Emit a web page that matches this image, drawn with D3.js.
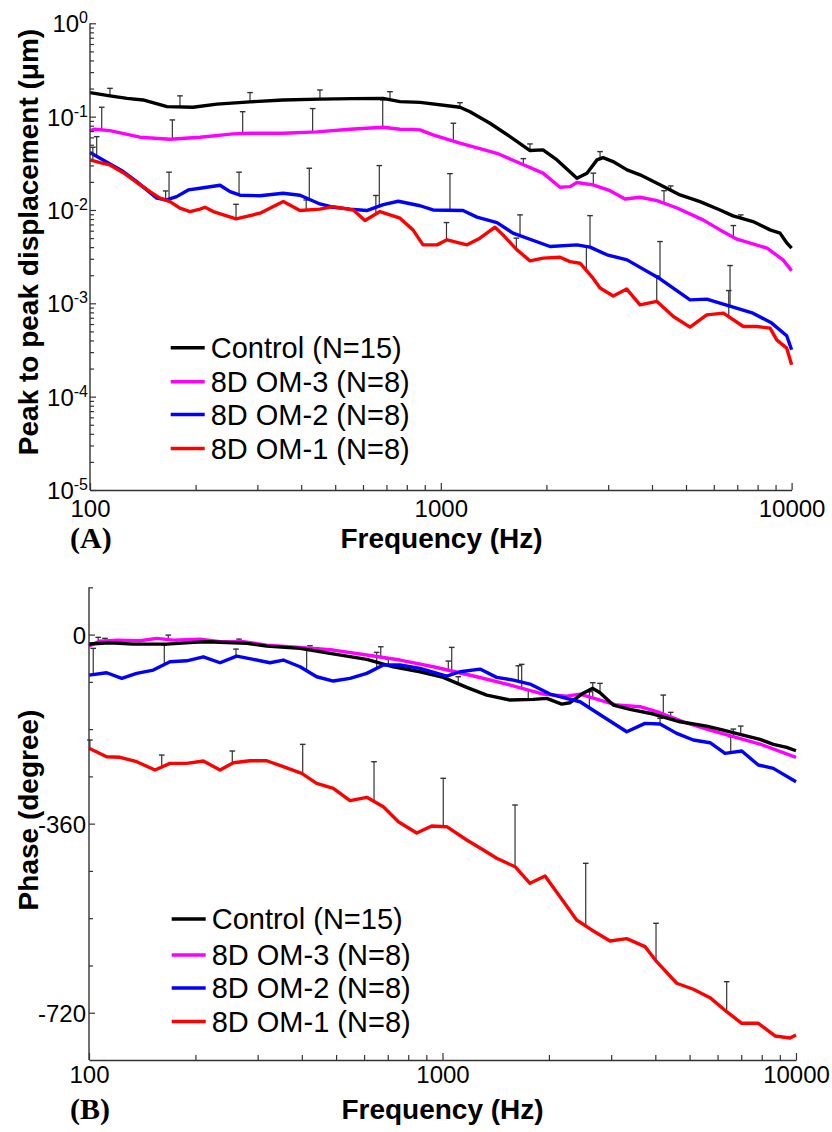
<!DOCTYPE html>
<html><head><meta charset="utf-8">
<script src="https://cdn.jsdelivr.net/npm/d3@7"></script>
<style>body{margin:0;background:#fff}svg{display:block}</style>
</head><body>
<svg id="c" width="832" height="1132"></svg>
<script>
// ---------------- DATA ----------------
const seriesNames = ["Control (N=15)", "8D OM-3 (N=8)", "8D OM-2 (N=8)", "8D OM-1 (N=8)"];
const seriesColors = ["#000000", "#ff00ff", "#0000ff", "#ff0000"];
const xTickValues = [100, 1000, 10000];
const xTickLabels = ["100", "1000", "10000"];
const ampTickExponents = [0, -1, -2, -3, -4, -5];
const phaseTickValues = [0, -360, -720];
const phaseTickLabels = ["0", "-360", "-720"];

// Panel A: peak-to-peak displacement (um)
const ampControlFreq = [100,114,127.5,141.6,165.8,196.6,230,285.9,355,452,562,684,765,873,1134,1211,1381,1575,1796,1956,2144,2444,2610,2788,2900,3097,3395,3698,4216,4808,5482,6252,6808,7762,8681,9268,9703,10000];
const ampControl = [0.181,0.167,0.157,0.151,0.128,0.126,0.136,0.144,0.151,0.154,0.156,0.157,0.145,0.142,0.126,0.113,0.0849,0.0611,0.0433,0.044,0.0344,0.0219,0.0248,0.0344,0.0364,0.033,0.0269,0.0238,0.0186,0.0145,0.0123,0.01,0.00865,0.00752,0.00612,0.00565,0.00441,0.0039];
const ampOM3Freq = [100,103.3,114,138.8,169,205.9,255.6,285.9,355,443.6,550.8,684,765,833,873,950,1134,1446,1682,1956,2187,2335,2444,2716,3037,3351,3698,4134,4714,5589,6252,6987,8510,9452,10000];
const ampOM3 = [0.0708,0.0733,0.0708,0.0602,0.0573,0.0602,0.0653,0.0664,0.0664,0.0686,0.0733,0.077,0.0733,0.073,0.0721,0.0637,0.0519,0.0405,0.0317,0.0248,0.0175,0.0178,0.0197,0.0186,0.0161,0.0131,0.0137,0.0126,0.0105,0.00783,0.00612,0.00487,0.0039,0.00292,0.00224];
const ampOM2Freq = [100,106.8,114,124.4,135.9,145.1,155,165.4,176.6,190.6,205.9,234.8,250.7,267.7,305.2,355,396.8,452.4,492.7,550.8,614.8,685.6,756.5,873,950,1157,1268,1446,1606,2048,2444,2663,2977,3395,4216,5134,5728,7762,8777,9683,10000];
const ampOM2 = [0.0412,0.0359,0.0312,0.0258,0.0201,0.0164,0.0134,0.0128,0.0139,0.0164,0.0171,0.0184,0.0157,0.0144,0.0142,0.0151,0.0144,0.0116,0.0107,0.0102,0.00986,0.0114,0.0124,0.0111,0.01,0.00986,0.00838,0.00733,0.00565,0.00406,0.00423,0.004,0.00331,0.00292,0.00183,0.00109,0.00111,0.000785,0.000614,0.000449,0.000318];
const ampOM1Freq = [100,106.8,114,124.4,135.9,148.3,158.3,169,180.5,192.8,205.9,212.7,224.6,260.8,305.2,355.6,396.8,452.4,493.8,563.2,607.8,670.7,765,833,889.9,975.5,1042,1188,1293,1427,1504,1649,1796,1956,2187,2335,2494,2716,2844,3102,3389,3698,4126,4601,5134,5728,6389,7285,7954,8681,9069,9683,10000];
const ampOM1 = [0.0344,0.0322,0.0304,0.0251,0.0197,0.0157,0.0134,0.0123,0.01045,0.00962,0.0102,0.0107,0.00962,0.00803,0.00924,0.0123,0.00986,0.0102,0.01087,0.01,0.0077,0.00962,0.00817,0.00612,0.00423,0.00423,0.00479,0.00423,0.00499,0.00654,0.00541,0.00374,0.00285,0.00305,0.00312,0.0028,0.00269,0.00186,0.00146,0.0012,0.00142,0.000964,0.00105,0.000722,0.000556,0.000753,0.000785,0.000565,0.000565,0.000543,0.000406,0.000331,0.00022];

// Panel A error bars (upper end, mean + SD)
const ampControlErrFreq = [114,180.5,285.9,452.4,716.4,1134,1796,2844,4522,7162];
const ampControlErrTop = [0.201,0.167,0.181,0.193,0.185,0.141,0.051,0.0422,0.0181,0.00886];
const ampOM3ErrFreq = [108,171.7,272.4,431.2,683,1086,1719,2721,4328,6823];
const ampOM3ErrTop = [0.126,0.0922,0.113,0.122,0.151,0.085,0.0355,0.0248,0.0161,0.00681];
const ampOM2ErrFreq = [104.5,168,266,421.8,667.9,1062,1682,2663,4216,6676];
const ampOM2ErrTop = [0.0611,0.0254,0.0254,0.028,0.0299,0.0245,0.00886,0.0087,0.00459,0.00254];
const ampOM1ErrFreq = [101.9,164.3,260.8,413.3,653,1038,1642,2600,4126,6620];
const ampOM1ErrTop = [0.047,0.016,0.0115,0.0128,0.0143,0.00733,0.00499,0.00403,0.00197,0.00137];

// Panel B: phase (degree)
const phControlFreq = [100,114.7,133.5,165.9,197.2,215.3,256,279.3,318.2,395.3,480.7,610.6,725.8,864,1005,1171,1334,1552,1807,1972,2174,2295,2476,2661,2790,3043,3392,3948,4697,5588,6230,6942,7911,8627,9413,10000];
const phControl = [-18,-15.6,-18.1,-18.1,-14.8,-13.7,-15.6,-16.7,-21.9,-26.3,-35.8,-47.2,-61.3,-70.8,-81.5,-100.5,-115.2,-124.7,-123.3,-121.4,-132.3,-129.8,-113.3,-102.4,-110.8,-134.2,-142.4,-151.3,-166,-174.2,-181.8,-190,-199.5,-209,-214.7,-221.2];
const phOM3Freq = [100,107.4,119.8,139.4,155.4,173.2,206.1,234.8,273.3,318.2,395.3,491.1,610.6,758.3,941.9,1250,1622,1928,2245,2449,2790,3111,3621,4125,4800,5712,6646,7907,10000];
const phOM3 = [-21.9,-12.4,-10.5,-11.8,-7.2,-10.5,-8.6,-13.7,-13.7,-20,-24.4,-29.5,-39,-48.5,-61.3,-80.3,-99.4,-113.3,-117.1,-113.3,-124.7,-134.2,-137.4,-148.8,-166,-181.8,-194.5,-208.4,-233.7];
const phOM2Freq = [100,112.2,123.8,136.4,152,169.4,188.9,210.6,234.8,261.7,291.6,325.1,354.5,395.3,440.6,491.1,547.4,610.6,680.1,758.3,864,1028,1121,1277,1423,1586,1768,2014,2449,2850,3320,3740,4125,4598,5123,5712,6299,7023,7823,8627,10000];
const phOM2 = [-77.1,-72.7,-83.4,-73.9,-67.6,-51.8,-49.9,-42.3,-53.7,-40.9,-47.2,-53.7,-48.5,-61.3,-80.3,-88.5,-83.4,-73.9,-58,-58,-64.3,-79,-70.8,-65.7,-81.5,-86.6,-94.2,-113.3,-127.9,-156.5,-185,-169,-170.3,-188.1,-200.8,-205.9,-226.1,-221.7,-248.4,-254.7,-280.2];
const phOM1Freq = [100,112.2,122.4,136.4,153.7,169.4,188.9,210.6,234.8,256,285.4,318.2,354.5,399.7,440.6,491.1,547.4,610.6,680.1,750,845.3,932.2,1028,1171,1305,1423,1604,1768,1950,2150,2396,2643,2978,3320,3740,4036,4598,5123,5712,6367,7023,7823,8723,9616,10000];
const phOM1 = [-216.6,-232.6,-233.7,-242.1,-257.9,-245.2,-245.2,-240.8,-257.9,-244,-240.2,-240.2,-251.6,-264.2,-283.2,-292.7,-316.3,-309.9,-327.8,-356.3,-377.8,-364.5,-365.8,-391.1,-410.2,-426,-442,-473.6,-459.7,-499.1,-543.4,-562.4,-583.4,-579,-594.2,-622.8,-663.9,-675.3,-691.3,-718,-740.1,-740.1,-764.2,-768,-762.3];

// Panel B error bars (upper end)
const phControlErrFreq = [111,176.2,279.3,440.6,702.5,1108,1748,2790,4421,6977];
const phControlErrTop = [-7.2,-10.5,-13.7,-25.1,-47.2,-80.3,-105.6,-92.9,-148.1,-174.2];
const phOM3ErrFreq = [106.2,167.6,265.7,421.9,668.9,1038.5,1675,2661,4213,6648];
const phOM3ErrTop = [-5.3,-1,-8.6,-21.3,-23.2,-50.4,-56.7,-91.7,-115.2,-179.9];
const phOM2ErrFreq = [102.8,163.3,260.5,412.8,651.3,1062,1638.5,2603,4125,6537];
const phOM2ErrTop = [-26.3,-20,-27.6,-26.3,-33.9,-24.4,-59.4,-108.9,-159.5,-194.5];
const phOM1ErrFreq = [100.6,160.6,254.3,402.3,640.2,1005,1604,2542,4018,6367];
const phOM1ErrTop = [-200.8,-229.4,-221.7,-209,-242.1,-273.7,-324.5,-435.5,-549.7,-660.9];

// ---------------- DRAWING ----------------
const svg = d3.select("#c");
const FONT = "'Liberation Sans', Arial, Helvetica, sans-serif";
const SERIF = "'Liberation Serif', 'Times New Roman', serif";
const AX = "#333333";

function minorLogTicks(lo, hi) {
  const out = [];
  for (let e = lo; e < hi; e++) for (let m = 2; m <= 9; m++) out.push(m * Math.pow(10, e));
  return out;
}

function styleAxis(g) {
  g.selectAll("path.domain").attr("stroke", AX).attr("stroke-width", 1.4);
  g.selectAll(".tick line").attr("stroke", AX).attr("stroke-width", 1.2);
  g.attr("font-family", FONT).attr("font-size", 24);
  g.selectAll(".tick text").attr("fill", "#000");
}

function baseYAt(freqs, vals, f, x, y) {
  const xf = x(f);
  for (let i = 0; i < freqs.length - 1; i++) {
    const x0 = x(freqs[i]), x1 = x(freqs[i + 1]);
    if (xf >= x0 && xf <= x1) {
      const t = (xf - x0) / (x1 - x0);
      return y(vals[i]) + (y(vals[i + 1]) - y(vals[i])) * t;
    }
  }
  return y(vals[0]);
}

function drawPanel(p) {
  const { x, y } = p;
  const g = svg.append("g");

  // error bars (drawn under lines)
  p.series.forEach(s => {
    s.errF.forEach((f, i) => {
      const xp = x(f), yt = y(s.errTop[i]), yb = baseYAt(s.f, s.v, f, x, y);
      g.append("line").attr("x1", xp).attr("x2", xp).attr("y1", yt).attr("y2", yb)
        .attr("stroke", AX).attr("stroke-width", 1.2);
      g.append("line").attr("x1", xp - 2.8).attr("x2", xp + 2.8).attr("y1", yt).attr("y2", yt)
        .attr("stroke", AX).attr("stroke-width", 1.4);
    });
  });

  // lines
  const line = d3.line().x(d => x(d[0])).y(d => y(d[1]));
  p.drawOrder.forEach(k => {
    const s = p.series[k];
    g.append("path").datum(d3.zip(s.f, s.v)).attr("d", line)
      .attr("fill", "none").attr("stroke", s.color).attr("stroke-width", 3.4)
      .attr("stroke-linejoin", "round").attr("stroke-linecap", "butt");
  });

  // x axis
  const gx = svg.append("g").attr("transform", `translate(0,${p.bottom})`);
  gx.append("g").call(d3.axisBottom(x).tickValues(minorLogTicks(2, 4)).tickSize(-5).tickSizeOuter(0).tickFormat(""))
    .call(s => s.select("path.domain").remove()).call(styleAxis);
  gx.append("g").call(d3.axisBottom(x).tickValues(xTickValues).tickSize(-7).tickSizeOuter(0)
      .tickFormat((d, i) => xTickLabels[i]))
    .call(styleAxis)
    .call(s => s.selectAll(".tick text").attr("y", p.xLabelBase).attr("dy", null));

  // y axis
  const gy = svg.append("g").attr("transform", `translate(${p.left},0)`);
  gy.append("g").call(d3.axisLeft(y).tickValues(p.yMinor).tickSize(-4).tickSizeOuter(0).tickFormat(""))
    .call(s => s.select("path.domain").remove()).call(styleAxis);
  gy.append("g").call(d3.axisLeft(y).tickValues(p.yMajor).tickSize(-6).tickSizeOuter(0).tickFormat(""))
    .call(styleAxis)
    .call(s => s.select("path.domain").attr("d", `M0,${p.yTopPx}V${p.bottom}`))
    .call(s => s.selectAll(".tick text").each(function (d, i) {
      const t = d3.select(this).attr("x", p.yLabelX).attr("dy", "0.36em").attr("text-anchor", "end");
      p.yLabel(t, d, i);
    }));

  // axis titles
  svg.append("text").attr("x", p.xTitleX).attr("y", p.xTitleY).attr("text-anchor", "middle")
    .attr("font-family", FONT).attr("font-weight", "bold").attr("font-size", 28).text("Frequency (Hz)");
  svg.append("text").attr("transform", `translate(${p.yTitleX},${p.yTitleY}) rotate(-90)`)
    .attr("text-anchor", "middle").attr("font-family", FONT).attr("font-weight", "bold")
    .attr("font-size", 28).text(p.yTitle);
  svg.append("text").attr("x", 70).attr("y", p.xTitleY).attr("font-family", SERIF)
    .attr("font-weight", "bold").attr("font-size", 30).text(p.panelLabel);

  // legend
  const lg = svg.append("g");
  seriesNames.forEach((n, i) => {
    const yy = p.legendY[i];
    lg.append("line").attr("x1", p.legendX).attr("x2", p.legendX + 34).attr("y1", yy).attr("y2", yy)
      .attr("stroke", seriesColors[i]).attr("stroke-width", 3.6);
    lg.append("text").attr("x", p.legendX + 40).attr("y", yy).attr("dy", "0.36em")
      .attr("font-family", FONT).attr("font-size", 29).attr("fill", "#000").text(n);
  });
}

// Panel A
const xA = d3.scaleLog().domain([100, 10000]).range([90, 791.6]);
const yA = d3.scaleLog().domain([1e-5, 1]).range([490, 23.3]);
drawPanel({
  x: xA, y: yA, left: 90, bottom: 490, yTopPx: 23.3, xLabelBase: 26.7,
  yMajor: ampTickExponents.map(e => Math.pow(10, e)),
  yMinor: minorLogTicks(-5, 0),
  yLabelX: -2,
  yLabel: (t, d, i) => {
    t.text(null);
    t.append("tspan").text("10");
    t.append("tspan").attr("dy", -9).attr("font-size", 16).text(String(ampTickExponents[i]));
  },
  xTitleX: 441.5, xTitleY: 548,
  yTitle: "Peak to peak displacement (\u03bcm)", yTitleX: 38, yTitleY: 242,
  panelLabel: "(A)",
  legendX: 170.7, legendY: [347.7, 381.7, 414.5, 448.5],
  drawOrder: [1, 0, 2, 3],
  series: [
    { f: ampControlFreq, v: ampControl, errF: ampControlErrFreq, errTop: ampControlErrTop, color: seriesColors[0] },
    { f: ampOM3Freq, v: ampOM3, errF: ampOM3ErrFreq, errTop: ampOM3ErrTop, color: seriesColors[1] },
    { f: ampOM2Freq, v: ampOM2, errF: ampOM2ErrFreq, errTop: ampOM2ErrTop, color: seriesColors[2] },
    { f: ampOM1Freq, v: ampOM1, errF: ampOM1ErrFreq, errTop: ampOM1ErrTop, color: seriesColors[3] }
  ]
});

// Panel B
const xB = d3.scaleLog().domain([100, 10000]).range([89, 796]);
const yB = d3.scaleLinear().domain([-810, 90]).range([1060, 587.3]);
const phMinor = d3.range(-720 - 90, 91, 90).filter(v => v > -810 && !phaseTickValues.includes(v));
drawPanel({
  x: xB, y: yB, left: 89, bottom: 1060, yTopPx: 587.3, xLabelBase: 23.3,
  yMajor: phaseTickValues,
  yMinor: phMinor,
  yLabelX: -3,
  yLabel: (t, d, i) => { t.text(phaseTickLabels[i]); },
  xTitleX: 442.5, xTitleY: 1119,
  yTitle: "Phase (degree)", yTitleX: 38, yTitleY: 810,
  panelLabel: "(B)",
  legendX: 171.7, legendY: [919, 955, 988, 1021.5],
  drawOrder: [1, 0, 2, 3],
  series: [
    { f: phControlFreq, v: phControl, errF: phControlErrFreq, errTop: phControlErrTop, color: seriesColors[0] },
    { f: phOM3Freq, v: phOM3, errF: phOM3ErrFreq, errTop: phOM3ErrTop, color: seriesColors[1] },
    { f: phOM2Freq, v: phOM2, errF: phOM2ErrFreq, errTop: phOM2ErrTop, color: seriesColors[2] },
    { f: phOM1Freq, v: phOM1, errF: phOM1ErrFreq, errTop: phOM1ErrTop, color: seriesColors[3] }
  ]
});
</script>
</body></html>
